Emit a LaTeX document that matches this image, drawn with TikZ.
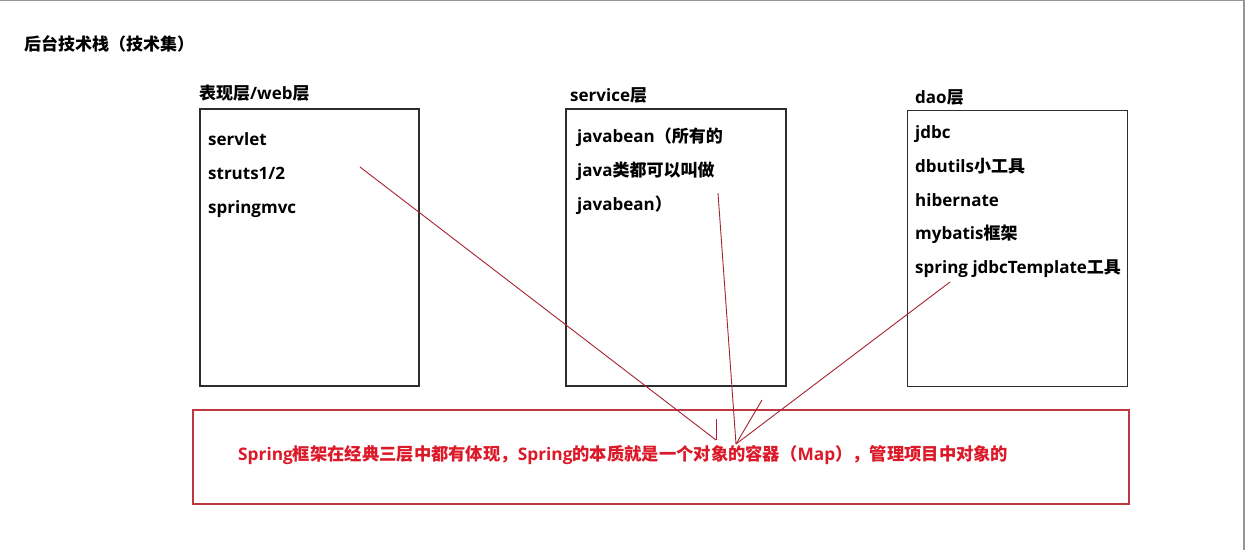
\documentclass[tikz,border=0pt]{standalone}
\usepackage{fontspec}
\setmainfont{Open Sans}
\newfontfamily\cjk{Noto Sans CJK SC}
\usetikzlibrary{positioning}
\definecolor{framegray}{RGB}{150,150,150}
\definecolor{boxgray}{RGB}{45,45,45}
\definecolor{springred}{RGB}{190,55,65}
\definecolor{textred}{RGB}{220,25,40}
\definecolor{linkred}{RGB}{165,35,50}
\tikzset{
  layer/.style={draw=boxgray, line width=1.6pt, anchor=north west, inner sep=0pt},
  item/.style={font=\fontsize{17}{19}\selectfont\bfseries, text height=12pt, text depth=4pt, inner sep=0pt},
  link/.style={draw=linkred, line width=0.9pt},
}

\begin{document}
\begin{tikzpicture}
      [ x=1pt, y=-1pt
        , node distance=17.5pt
        , every node/.style={}
      ]
      \fill[white] (0,0) rectangle (1245,550);
      \useasboundingbox (0,0) rectangle (1245,550);
      \draw[framegray, line width=2pt] (0,0) -- (1245,0);
      \draw[framegray, line width=2pt] (1244,0) -- (1244,550);

      \node (title) [item, anchor=west] at (24,46) {\cjk 后台技术栈（技术集）};

      \node (web) [layer, minimum width=219pt, minimum height=277pt] at (199,108) {};
      \node (webname) [item, above right=4pt and 0pt of web.north west] {{\cjk 表现层}/web{\cjk 层}};
      \node (servlet) [item, below right=25pt and 9pt of web.north west] {servlet};
      \node (struts) [item, below right=17.5pt and 0pt of servlet.south west] {struts1/2};
      \node (springmvc) [item, below right=17.5pt and 0pt of struts.south west] {springmvc};

      \node (service) [layer, minimum width=220pt, minimum height=277pt] at (565,108) {};
      \node (servicename) [item, above right=2pt and 5pt of service.north west] {service{\cjk 层}};
      \node (bean1) [item, below right=22pt and 12pt of service.north west] {javabean{\cjk （所有的}};
      \node (bean2) [item, below right=17.5pt and 0pt of bean1.south west] {java{\cjk 类都可以叫做}};
      \node (bean3) [item, below right=17.5pt and 0pt of bean2.south west] {javabean{\cjk ）}};

      \node (dao) [layer, line width=1pt, minimum width=220pt, minimum height=276pt] at (907,110) {};
      \node (daoname) [item, above right=2pt and 8pt of dao.north west] {dao{\cjk 层}};
      \node (jdbc) [item, below right=16pt and 8pt of dao.north west] {jdbc};
      \node (dbutils) [item, below right=17.5pt and 0pt of jdbc.south west] {dbutils{\cjk 小工具}};
      \node (hibernate) [item, below right=17.5pt and 0pt of dbutils.south west] {hibernate};
      \node (mybatis) [item, below right=17.5pt and 0pt of hibernate.south west] {mybatis{\cjk 框架}};
      \node (jdbctpl) [item, below right=17.5pt and 0pt of mybatis.south west] {spring jdbcTemplate{\cjk 工具}};

      \node (spring) [layer, draw=springred, minimum width=936pt, minimum height=94pt] at (192,409) {};
      \node (essence) [item, font=\fontsize{17.3}{19}\selectfont\bfseries, text=textred, right=46pt of spring.west] {Spring{\cjk 框架在经典三层中都有体现，}Spring{\cjk 的本质就是一个对象的容器（}Map{\cjk ），管理项目中对象的}};

      \coordinate (webtail) at (360,167);
      \coordinate (servicetail) at (718,193);
      \coordinate (daotail) at (950,282);
      \coordinate (webtip) at (716,440);
      \coordinate (tip) at (736,444);
      \draw[link] (webtail) -- (webtip);
      \draw[link] (webtip) -- ++(0,-21);
      \draw[link] (servicetail) -- (tip);
      \draw[link] (daotail) -- (tip);
      \draw[link] (tip) -- ++(26,-44);

    \end{tikzpicture}
\end{document}
